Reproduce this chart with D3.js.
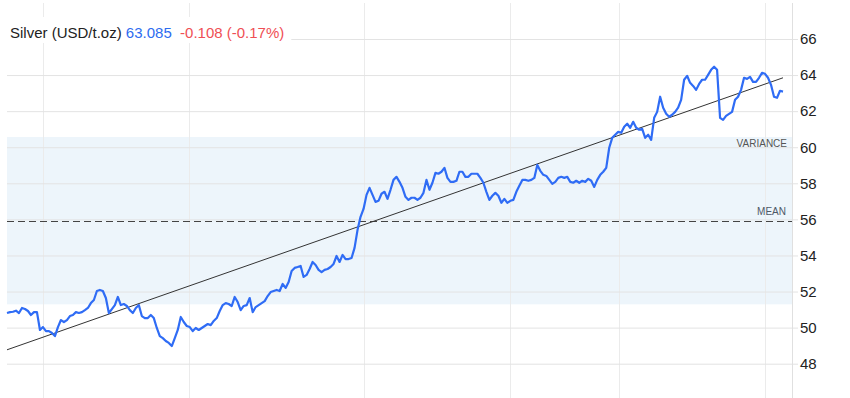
<!DOCTYPE html>
<html>
<head>
<meta charset="utf-8">
<script src="https://cdn.jsdelivr.net/npm/d3@7"></script>
<style>
  body { margin: 0; background: #fff; }
  svg { display: block; font-family: Arial, "Liberation Sans", sans-serif; }
</style>
</head>
<body>
<div id="chart"></div>
<script>
// price series, one value per sample
var prices = [
  50.81, 50.86, 50.88, 50.94, 50.81, 51.09, 51.03, 50.92, 50.70, 50.86,
  50.86, 49.87, 50.03, 49.81, 49.81, 49.70, 49.53, 50.03, 50.42, 50.31,
  50.42, 50.64, 50.70, 50.86, 50.81, 50.86, 50.97, 51.09, 51.36, 51.53,
  52.03, 52.09, 52.03, 51.64, 50.81, 51.03, 51.25, 51.70, 51.25, 51.31,
  51.20, 50.97, 50.81, 51.09, 51.25, 50.64, 50.53, 50.53, 50.70, 50.53,
  49.98, 49.53, 49.42, 49.26, 49.15, 48.98, 49.42, 49.87, 50.59, 50.31,
  50.09, 50.03, 49.81, 49.98, 49.87, 49.98, 50.09, 50.20, 50.14, 50.37,
  50.53, 50.92, 51.25, 51.36, 51.31, 51.20, 51.70, 51.42, 50.97, 51.20,
  51.25, 51.64, 50.86, 51.14, 51.25, 51.36, 51.47, 51.75, 51.97, 52.03,
  52.09, 52.03, 52.42, 52.20, 52.53, 53.14, 53.31, 53.36, 53.42, 52.81,
  52.92, 53.25, 53.64, 53.47, 53.20, 53.08, 53.20, 53.25, 53.36, 53.53,
  53.97, 53.64, 54.03, 53.80, 53.80, 53.86, 54.42, 55.42, 56.14, 56.58,
  57.36, 57.75, 57.36, 56.97, 57.03, 57.42, 57.53, 57.14, 57.64, 58.19,
  58.36, 58.08, 57.75, 57.25, 57.08, 57.20, 57.20, 57.08, 57.20, 57.47,
  58.19, 57.64, 58.03, 58.58, 58.53, 58.64, 58.86, 58.30, 58.08, 58.08,
  58.14, 58.64, 58.64, 58.36, 58.36, 58.53, 58.53, 58.53, 58.30, 58.03,
  57.53, 57.08, 57.31, 57.47, 57.31, 56.92, 57.14, 56.92, 57.03, 57.08,
  57.53, 57.86, 58.19, 58.19, 58.14, 58.19, 58.30, 59.02, 58.69, 58.47,
  58.41, 58.19, 57.97, 58.08, 58.30, 58.36, 58.30, 58.36, 58.08, 58.03,
  58.14, 58.03, 58.14, 58.08, 58.25, 58.14, 57.80, 58.19, 58.47, 58.64,
  58.86, 59.97, 60.52, 60.69, 60.85, 60.80, 61.13, 61.30, 61.08, 61.41,
  61.08, 60.97, 61.02, 60.52, 60.69, 60.41, 61.63, 61.96, 62.80, 62.19,
  61.86, 61.69, 61.80, 61.96, 62.19, 62.63, 63.74, 63.96, 63.57, 63.40,
  63.18, 63.51, 63.74, 63.74, 64.01, 64.29, 64.46, 64.29, 61.63, 61.52,
  61.74, 61.85, 61.96, 62.63, 62.80, 63.18, 63.85, 63.79, 63.90, 63.62,
  63.62, 63.85, 64.12, 64.07, 63.85, 63.46, 62.80, 62.74, 63.13, 63.085
];

var yTicks = [48, 50, 52, 54, 56, 58, 60, 62, 64, 66];
// sample positions of the vertical grid lines
var xGridAt = [12, 60.7, 119.3, 168, 204.3, 253];

// statistics shown on the chart
var meanValue = 55.93;
var varianceBand = [51.29, 60.57];
var trendEnds = [48.77, 63.85];

var titleParts = [
  { text: "Silver (USD/t.oz)", color: "#222" },
  { text: " 63.085", color: "#2d6cf0" },
  { text: "  -0.108 (-0.17%)", color: "#ef4f55" }
];

var W = 850, H = 398;
var plotLeft = 7, plotRight = 792, lineRight = 783;

var svg = d3.select("#chart").append("svg")
  .attr("width", W)
  .attr("height", H);

var x = d3.scaleLinear()
  .domain([0, prices.length - 1])
  .range([plotLeft, lineRight]);

var y = d3.scaleLinear()
  .domain([48, 66])
  .range([363.7, 39]);

// variance band
svg.append("rect")
  .attr("x", plotLeft)
  .attr("y", y(varianceBand[1]))
  .attr("width", plotRight - plotLeft)
  .attr("height", y(varianceBand[0]) - y(varianceBand[1]))
  .attr("fill", "#edf5fb");

// vertical grid
svg.append("g").selectAll("line")
  .data(xGridAt)
  .enter().append("line")
    .attr("x1", d => Math.round(x(d)) + 0.5)
    .attr("x2", d => Math.round(x(d)) + 0.5)
    .attr("y1", 3)
    .attr("y2", H)
    .attr("stroke", "#ebebeb");

// horizontal grid + labels on the right
var yAxis = d3.axisRight(y)
  .tickValues(yTicks)
  .tickSize(plotRight + 6 - plotLeft)
  .tickPadding(2)
  .tickFormat(d3.format("d"));

var gy = svg.append("g")
  .attr("transform", "translate(" + plotLeft + ",0)")
  .call(yAxis);
gy.select(".domain").remove();
gy.selectAll(".tick line").attr("stroke", "#e3e3e3");
gy.selectAll(".tick text")
  .attr("fill", "#222")
  .style("font-size", "15px")
  .style("font-family", "Arial, 'Liberation Sans', sans-serif");

// axis line
svg.append("line")
  .attr("x1", plotRight + 0.5)
  .attr("x2", plotRight + 0.5)
  .attr("y1", 3)
  .attr("y2", H)
  .attr("stroke", "#e0e0e0");

// mean line
svg.append("line")
  .attr("x1", plotLeft)
  .attr("x2", plotRight)
  .attr("y1", Math.round(y(meanValue)) + 0.5)
  .attr("y2", Math.round(y(meanValue)) + 0.5)
  .attr("stroke", "#444")
  .attr("stroke-dasharray", "7,4");

svg.append("text")
  .attr("x", 786)
  .attr("y", y(meanValue) - 6)
  .attr("text-anchor", "end")
  .attr("fill", "#4d5866")
  .style("font-size", "10px")
  .text("MEAN");

svg.append("text")
  .attr("x", 787)
  .attr("y", y(varianceBand[1]) + 10)
  .attr("text-anchor", "end")
  .attr("fill", "#555")
  .style("font-size", "10px")
  .text("VARIANCE");

// trend line
svg.append("line")
  .attr("x1", x(0))
  .attr("y1", y(trendEnds[0]))
  .attr("x2", x(prices.length - 1))
  .attr("y2", y(trendEnds[1]))
  .attr("stroke", "#333")
  .attr("stroke-width", 1);

// price line
svg.append("path")
  .datum(prices)
  .attr("fill", "none")
  .attr("stroke", "#2f6cf5")
  .attr("stroke-width", 2.2)
  .attr("stroke-linejoin", "round")
  .attr("d", d3.line()
    .x((d, i) => x(i))
    .y(d => y(d)));

// title with white backing
var title = svg.append("g");
var titleBg = title.append("rect").attr("fill", "#fff");
var tt = title.append("text")
  .attr("x", 10)
  .attr("y", 38)
  .style("font-size", "15px")
  .attr("xml:space", "preserve")
  .style("white-space", "pre");
tt.selectAll("tspan")
  .data(titleParts)
  .enter().append("tspan")
    .attr("fill", d => d.color)
    .text(d => d.text);
var bb = tt.node().getBBox();
titleBg
  .attr("x", 0)
  .attr("y", 17)
  .attr("width", bb.x + bb.width + 7)
  .attr("height", 26);
</script>
</body>
</html>
